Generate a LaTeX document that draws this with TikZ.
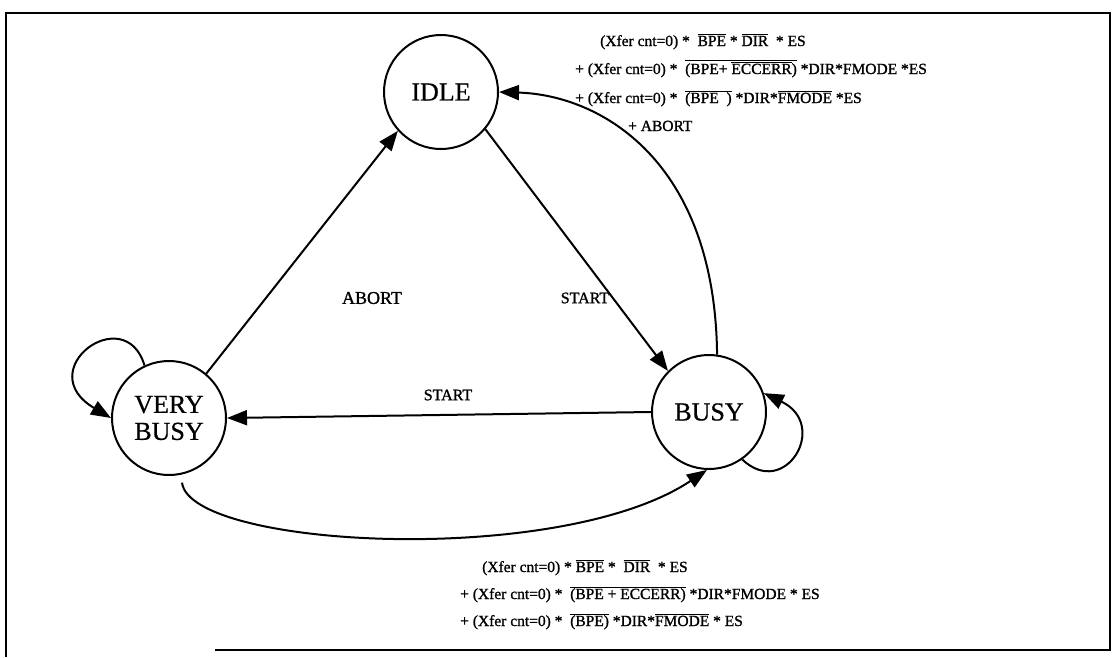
\documentclass[tikz,border=0pt]{standalone}
\usepackage{fontspec}
\setmainfont{Liberation Serif}
\newfontfamily\heavyfont{Liberation Serif}[FakeBold=1.2]
\newfontfamily\midfont{Liberation Serif}[FakeBold=0.6]
\usetikzlibrary{arrows.meta}
\newcommand{\ol}[1]{$\overline{\mbox{#1}}$}
\begin{document}
\begin{tikzpicture}[x=1pt,y=1pt,
 state/.style={circle,draw,line width=2pt,minimum size=114pt,inner sep=0pt,font=\midfont\fontsize{26}{27}\selectfont,align=center},
 edge/.style={line width=2pt,-{Triangle[length=20pt,width=15pt]}},
 lbl/.style={font=\heavyfont\fontsize{16}{18}\selectfont,inner sep=0pt},
 eq/.style={font=\heavyfont\fontsize{15.5}{18}\selectfont,inner sep=0pt,anchor=base west}]
\useasboundingbox (0,0) rectangle (1120,-657);
\draw[line width=2pt] (215,-650) -- (1110,-650) -- (1110,-13) -- (6,-13) -- (6,-657);

\node[state] (idle) at (441,-92) {IDLE};
\node[state] (busy) at (709,-412) {BUSY};
\node[state] (vb) at (169,-418) {VERY\\BUSY};

\draw[edge] (vb.50) -- (idle.222);
\draw[edge] (idle.-40) -- (busy.135);
\draw[edge] (busy.180) -- (vb.0);
\draw[edge] (busy.82) .. controls (715,-160) and (600,-95) .. (idle.east);
\draw[edge,shorten <=8pt] (vb.-78) .. controls (190,-548) and (560,-568) .. (busy.-92);
\draw[edge] (vb.115) .. controls (125,-300) and (30,-370) .. (vb.180);
\draw[edge] (busy.-55) .. controls (785,-500) and (830,-425) .. (busy.19);

\node[lbl,font=\heavyfont\fontsize{18}{20}\selectfont] (l1) at (372,-298) {ABORT};
\node[lbl] (l2) at (585,-298) {START};
\node[lbl] (l3) at (448,-395) {START};

\node[eq] (t1) at (600,-46) {(Xfer cnt=0) *\ \ \ol{BPE} * \ol{DIR}\ \ * ES};
\node[eq] (t2) at (575,-74) {+ (Xfer cnt=0) *\ \ $\overline{\mbox{(BPE+ $\overline{\mbox{ECCERR}}$)}}$ *DIR*FMODE *ES};
\node[eq] (t3) at (575,-103) {+ (Xfer cnt=0) *\ \ \ol{(BPE\ \ )} *DIR*\ol{FMODE} *ES};
\node[eq] (t4) at (628,-131) {+ ABORT};

\node[eq] (b1) at (482,-572) {(Xfer cnt=0) * \ol{BPE} *\ \ \ol{DIR}\ \ * ES};
\node[eq] (b2) at (460,-599) {+ (Xfer cnt=0) *\ \ \ol{(BPE + ECCERR)} *DIR*FMODE * ES};
\node[eq] (b3) at (460,-626) {+ (Xfer cnt=0) *\ \ \ol{(BPE)} *DIR*\ol{FMODE} * ES};
\end{tikzpicture}
\end{document}
